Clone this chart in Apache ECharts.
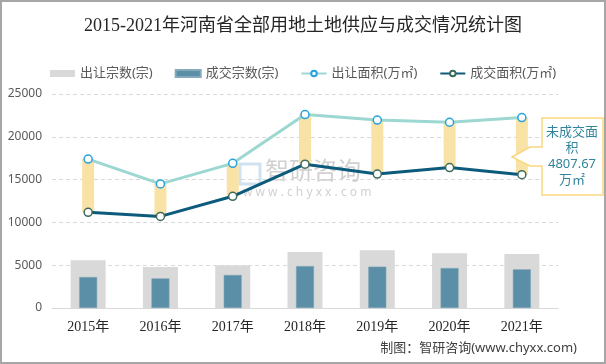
<!DOCTYPE html>
<html>
<head>
<meta charset="utf-8">
<script src="https://cdn.jsdelivr.net/npm/echarts@6/dist/echarts.min.js"></script>
<style>html,body{margin:0;padding:0;background:#fff}#c{width:606px;height:364px}</style>
</head>
<body>
<div id="c"></div>
<script>
const categories = ['2015年','2016年','2017年','2018年','2019年','2020年','2021年'];
const supplyCount = [5570, 4790, 4990, 6540, 6740, 6390, 6310];
const dealCount = [3620, 3460, 3860, 4900, 4830, 4670, 4520];
const supplyArea = [17400, 14500, 16900, 22600, 21950, 21700, 22250];
const dealArea = [11180, 10700, 13050, 16800, 15650, 16400, 15570];
const yTicks = [0, 5000, 10000, 15000, 20000, 25000];
const gapArea = supplyArea.map((v, i) => +(v - dealArea[i]).toFixed(2));

const chart = echarts.init(document.getElementById('c'));
const serif = "'Liberation Serif','DejaVu Serif','Noto Sans CJK SC',serif";
const sans = "'Noto Sans','Noto Sans CJK SC',sans-serif";
const hiddenX = (show) => ({
  type: 'category', data: categories, show: show,
  axisLine: {show: show, lineStyle: {color: '#d9d9d9', width: 1}},
  axisTick: {show: false},
  axisLabel: {show: show, color: '#262626', fontFamily: serif, fontSize: 14, margin: 12}
});
chart.setOption({
  animation: false,
  title: {
    text: '2015-2021年河南省全部用地土地供应与成交情况统计图',
    left: 'center', top: 12,
    textStyle: {fontFamily: serif, fontSize: 18, fontWeight: 'normal', color: '#262626'}
  },
  legend: {
    left: 'center', top: 62, itemGap: 22, itemWidth: 25, itemHeight: 7,
    textStyle: {fontFamily: sans, fontSize: 13, color: '#595959'},
    data: [
      {name: '出让宗数(宗)', icon: 'rect'},
      {name: '成交宗数(宗)', icon: 'rect'},
      {name: '出让面积(万㎡)'},
      {name: '成交面积(万㎡)'}
    ]
  },
  grid: {left: 52, right: 48, top: 94, bottom: 56},
  xAxis: [hiddenX(true), hiddenX(false), hiddenX(false)],
  yAxis: {
    type: 'value', min: yTicks[0], max: yTicks[yTicks.length - 1], interval: 5000,
    axisLine: {show: false}, axisTick: {show: false},
    axisLabel: {color: '#595959', fontFamily: sans, fontSize: 12, margin: 10,
      formatter: (v) => String(v)},
    splitLine: {lineStyle: {color: '#d9d9d9', type: [4, 3]}}
  },
  graphic: [
    {type: 'rect', silent: true, z: 0, shape: {x: 240, y: 164, width: 20, height: 20},
      style: {fill: 'none', stroke: 'rgba(120,170,210,0.35)', lineWidth: 3}},
    {type: 'text', left: 265, top: 160, silent: true, z: 0,
      style: {text: '智研咨询', fontFamily: sans, fontSize: 24, fill: 'rgba(150,150,150,0.45)', letterSpacing: 3}},
    {type: 'text', left: 243, top: 187, silent: true, z: 0,
      style: {text: 'w w w . c h y x x . c o m', fontFamily: sans, fontSize: 12, fill: 'rgba(150,150,150,0.45)'}},
    {type: 'polygon', z: 10,
      shape: {points: [[542,118],[603,118],[603,195],[542,195],[542,166],[530,166],[512,157],[530,147],[542,147]]},
      style: {fill: '#ffffff', stroke: '#fad77d', lineWidth: 1.5}},
    {type: 'text', z: 11, x: 572, y: 124,
      style: {text: '未成交面\n积\n4807.67\n万㎡', fontFamily: sans, fontSize: 13, lineHeight: 16,
        fill: '#31849b', align: 'center', verticalAlign: 'top'}},
    {type: 'text', right: 29, top: 342,
      style: {text: '制图：智研咨询(www.chyxx.com)', fontFamily: sans, fontSize: 13, fill: '#404040'}},
    {type: 'rect', z: 20, silent: true,
      shape: {x: 1, y: 1, width: 604, height: 362},
      style: {fill: 'none', stroke: '#a6a6a6', lineWidth: 2}}
  ],
  series: [
    {name: '出让宗数(宗)', type: 'bar', xAxisIndex: 0, barWidth: 35, data: supplyCount,
      itemStyle: {color: '#d9d9d9'}, z: 2},
    {name: '成交宗数(宗)', type: 'bar', xAxisIndex: 1, barWidth: 18, data: dealCount,
      itemStyle: {color: '#5b8fa7', borderColor: '#84aabb', borderWidth: 0.5}, z: 3},
    {name: 'base', type: 'bar', xAxisIndex: 2, stack: 'gap', barWidth: 12, data: dealArea,
      itemStyle: {color: 'transparent'}, z: 3, silent: true},
    {name: 'gap', type: 'bar', xAxisIndex: 2, stack: 'gap', barWidth: 12, data: gapArea,
      itemStyle: {color: '#f9e2a6'}, z: 3},
    {name: '出让面积(万㎡)', type: 'line', xAxisIndex: 0, data: supplyArea,
      symbol: 'circle', symbolSize: 8,
      lineStyle: {color: '#9dd7d1', width: 3},
      itemStyle: {color: '#ffffff', borderColor: '#27a2dc', borderWidth: 1.5}, z: 5},
    {name: '成交面积(万㎡)', type: 'line', xAxisIndex: 0, data: dealArea,
      symbol: 'circle', symbolSize: 8,
      lineStyle: {color: '#0c5b7c', width: 3},
      itemStyle: {color: '#ffffff', borderColor: '#3f6a5c', borderWidth: 1.5}, z: 5}
  ]
});
</script>
</body>
</html>
